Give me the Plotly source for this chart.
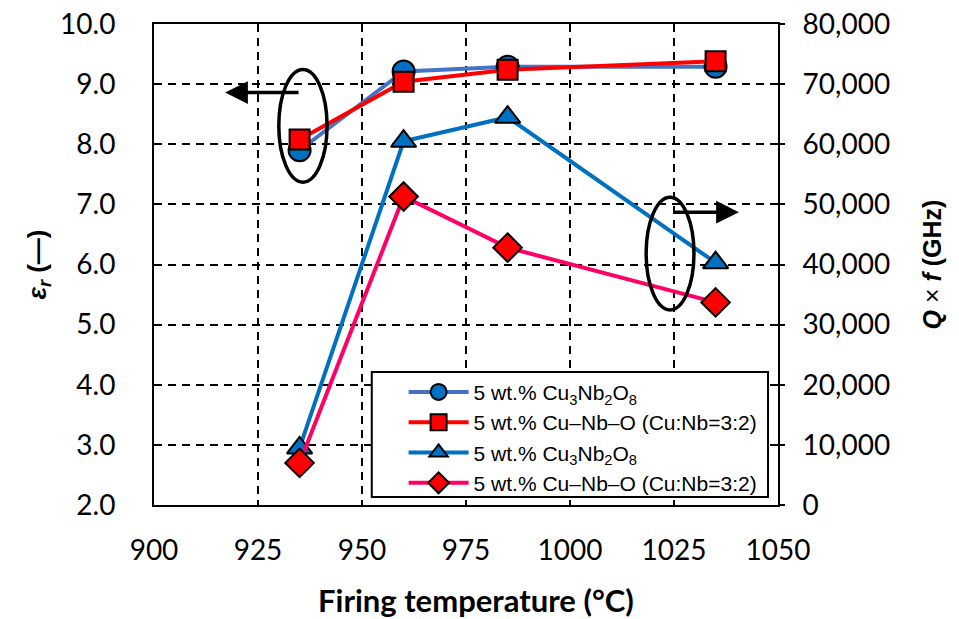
import plotly.graph_objects as go

temps = [935, 960, 985, 1035]
er_cu3nb2o8 = [7.90, 9.21, 9.29, 9.29]
er_cunbo = [8.08, 9.04, 9.24, 9.38]
qf_cu3nb2o8 = [9500, 60500, 64500, 40300]
qf_cunbo = [7000, 51300, 42800, 33700]

leg1 = "5 wt.% Cu<sub>3</sub>Nb<sub>2</sub>O<sub>8</sub>"
leg2 = "5 wt.% Cu–Nb–O (Cu:Nb=3:2)"
x_title = "<b>Firing temperature (°C)</b>"

tick_font = dict(family="Lato, sans-serif", size=28, color="black")
title_font = dict(family="Lato, sans-serif", size=31, color="black")
ytitle_font = dict(family="Liberation Sans, Arial, sans-serif", size=26, color="black")
y2title_font = dict(family="Liberation Sans, Arial, sans-serif", size=25, color="black")

fig = go.Figure()
fig.add_trace(go.Scatter(x=temps, y=er_cu3nb2o8, name=leg1, mode="lines+markers",
                         line=dict(color="#4472C4", width=4),
                         marker=dict(symbol="circle", size=22, color="#0070C0",
                                     line=dict(color="black", width=2)), yaxis="y"))
fig.add_trace(go.Scatter(x=temps, y=er_cunbo, name=leg2, mode="lines+markers",
                         line=dict(color="#FF0000", width=4),
                         marker=dict(symbol="square", size=20, color="#FF0000",
                                     line=dict(color="black", width=2)), yaxis="y"))
fig.add_trace(go.Scatter(x=temps, y=qf_cu3nb2o8, name=leg1, mode="lines+markers",
                         line=dict(color="#0070C0", width=4),
                         marker=dict(symbol="triangle-up", size=22, color="#0070C0",
                                     line=dict(color="black", width=2)), yaxis="y2"))
fig.add_trace(go.Scatter(x=temps, y=qf_cunbo, name=leg2, mode="lines+markers",
                         line=dict(color="#FF0066", width=4),
                         marker=dict(symbol="diamond", size=22, color="#FF0000",
                                     line=dict(color="black", width=2)), yaxis="y2"))

# ellipses and arrows (annotation decorations)
fig.add_shape(type="circle", xref="x", yref="y", x0=930.0, x1=941.6, y0=7.37, y1=9.245,
              line=dict(color="black", width=3.5))
fig.add_shape(type="circle", xref="x", yref="y", x0=1018.3, x1=1029.8, y0=5.245, y1=7.12,
              line=dict(color="black", width=3.5))
fig.add_annotation(x=917.1, y=8.86, ax=935.1, ay=8.86, xref="x", yref="y", axref="x", ayref="y",
                   text="", showarrow=True, arrowhead=2, arrowsize=1.3, arrowwidth=3.5, arrowcolor="black")
fig.add_annotation(x=1040.6, y=6.87, ax=1024.5, ay=6.87, xref="x", yref="y", axref="x", ayref="y",
                   text="", showarrow=True, arrowhead=2, arrowsize=1.3, arrowwidth=3.5, arrowcolor="black")

# legend frame
fig.add_shape(type="rect", xref="paper", yref="paper", x0=0.349, x1=0.984, y0=0.0166, y1=0.2765,
              fillcolor="white", line=dict(color="black", width=2), layer="above")

# x axis title
fig.add_annotation(text=x_title, xref="paper", yref="paper", x=0.516, y=-0.1975,
                   showarrow=False, font=title_font, xanchor="center", yanchor="middle")

fig.update_layout(
    width=959, height=619,
    margin=dict(l=154, r=181, t=24, b=114),
    paper_bgcolor="white", plot_bgcolor="white",
    showlegend=True,
    legend=dict(x=0.4, y=0.277, xanchor="left", yanchor="top",
                bgcolor="rgba(0,0,0,0)", borderwidth=0,
                font=dict(family="Liberation Sans, Arial, sans-serif", size=21, color="black"),
                tracegroupgap=0, itemwidth=60),
    xaxis=dict(range=[900, 1050], dtick=25, tick0=900, showgrid=True, gridcolor="black",
               griddash="8px,6px", gridwidth=1.5, showline=True, linecolor="black", linewidth=2,
               mirror=True, ticks="", tickfont=tick_font, zeroline=False, automargin=False,
               ticklabelstandoff=19, ticklabeloverflow="allow"),
    yaxis=dict(range=[2, 10], dtick=1, tick0=2, tickformat=".1f", showgrid=True, gridcolor="black",
               griddash="8px,6px", gridwidth=1.5, showline=True, linecolor="black", linewidth=2,
               ticks="", tickfont=tick_font, zeroline=False, automargin=False,
               ticklabelstandoff=31, ticklabeloverflow="allow",
               title=dict(text="<b><i>ε<sub>r</sub></i> (—)</b>", font=ytitle_font, standoff=6)),
    yaxis2=dict(range=[0, 80000], dtick=10000, tick0=0, tickformat=",", overlaying="y", side="right",
                showgrid=False, showline=True, linecolor="black", linewidth=2, ticks="outside",
                ticklen=5, tickcolor="black", tickwidth=2, tickfont=tick_font, zeroline=False,
                automargin=False, ticklabelstandoff=12, ticklabeloverflow="allow",
                title=dict(text="<b><i>Q</i></b> × <b><i>f</i> (GHz)</b>", font=y2title_font, standoff=34)),
)

fig.write_html("out.html", config={"displayModeBar": False},
               post_script="document.body.style.margin='0px';document.body.style.overflow='hidden';")
